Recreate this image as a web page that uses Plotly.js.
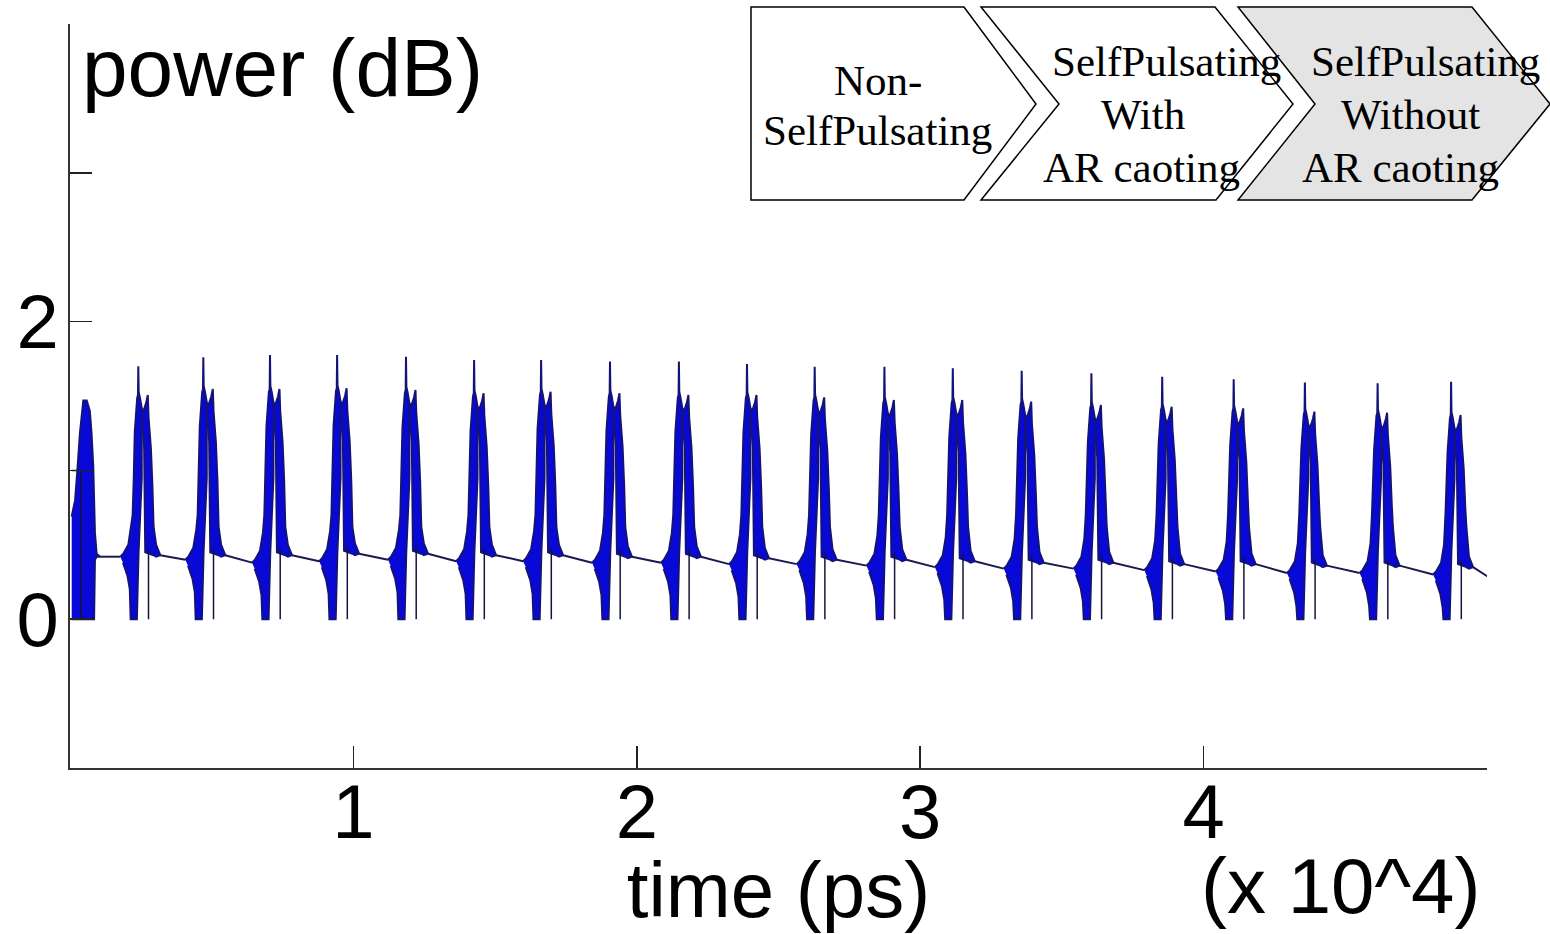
<!DOCTYPE html>
<html>
<head>
<meta charset="utf-8">
<script src="https://cdn.plot.ly/plotly-3.0.1.min.js"></script>
<style>html,body{margin:0;padding:0;background:#fff;}#chart{width:1550px;height:934px;}</style>
</head>
<body>
<div id="chart"></div>
<script>
// ---------------- data ----------------
// time axis in units of 10^4 ps, power in dB
const pulseTime  = [0.0589,0.2410,0.4704,0.7057,0.9425,1.1856,1.4259,1.6623,1.9054,2.1486,2.3888,2.6277,2.8737,3.1150,3.3581,3.6041,3.8539,4.1062,4.3574,4.6140,4.8733];
const peakTop    = [1.47,1.70,1.76,1.776,1.776,1.764,1.742,1.742,1.731,1.731,1.715,1.697,1.697,1.686,1.670,1.652,1.630,1.612,1.590,1.585,1.596];
const secondTop  = [null,1.507,1.547,1.547,1.552,1.540,1.518,1.529,1.518,1.507,1.507,1.491,1.473,1.473,1.462,1.440,1.428,1.417,1.395,1.388,1.372];
const baseBefore = [null,0.42,0.40,0.38,0.39,0.40,0.39,0.39,0.38,0.38,0.37,0.37,0.36,0.35,0.34,0.34,0.33,0.32,0.31,0.31,0.30];
const baseAfter  = [0.42,0.43,0.43,0.43,0.44,0.44,0.43,0.43,0.42,0.42,0.41,0.40,0.40,0.39,0.38,0.38,0.37,0.37,0.36,0.36,0.35];
const endTime = 5.003, endValue = 0.286;

// first (start-up) pulse envelope
const firstUpperT = [0.006,0.018,0.026,0.035,0.047,0.059,0.070,0.076,0.082,0.088,0.094,0.106];
const firstUpperV = [0.69,0.80,1.00,1.25,1.47,1.47,1.40,1.25,1.03,0.58,0.44,0.42];
const firstLowerT = [0.106,0.094,0.088,0.085,0.006];
const firstLowerV = [0.42,0.42,0.40,0.00,0.00];
const startLineT = [0.006,0.038,0.038,null,0.006,0.080];
const startLineV = [1.00,1.00,0.00,null,0.00,0.00];

// envelope of one pulse: time offset from the main spike,
// reference level (b = baseline before, a = baseline after, S = second spike, P = peak, abs), value
const leftDt   = [-0.0635,-0.0530,-0.0353,-0.0250,-0.0200,-0.0160,-0.0125,-0.0040,-0.0012,0,0.0014,0.0060,0.0122,0.0122,0.0070,0.0010,-0.0050,-0.0270,-0.0300,-0.0380,-0.0540];
const leftRef  = ['b','b','b','b','abs','abs','S','S','S','P','S','S','S','abs','abs','abs','abs','abs','b','b','b'];
const leftVal  = [0,0.02,0.08,0.20,0.70,0.95,-0.25,-0.02,0.00,0,0.02,-0.02,-0.09,0.95,0.70,0.45,0.00,0.00,-0.22,-0.13,-0.04];
const rightDt  = [0.0122,0.0180,0.0282,0.0335,0.0362,0.0445,0.0500,0.0540,0.0630,0.0776,0.0630,0.0540,0.0245,0.0205,0.0150,0.0128];
const rightRef = ['S','S','S','S','S','S','S','abs','a','a','a','a','a','S','S','S'];
const rightVal = [-0.09,-0.11,-0.05,0,-0.15,-0.36,-0.62,0.62,0.07,0,-0.01,0,0.02,-0.35,-0.22,-0.14];
const dropDt = 0.036;

const xTickVals = [1,2,3,4,5];
const xTickText = ['1','2','3','4',''];
const yTickVals = [0,1,2,3,4];
const yTickText = ['0','','2','',''];

const boxLabels = [
  ['Non-','SelfPulsating'],
  ['SelfPulsating','With','AR caoting'],
  ['SelfPulsating','Without','AR caoting']
];

// ---------------- build traces ----------------
function level(ref, val, i) {
  if (ref === 'b') return baseBefore[i] + val;
  if (ref === 'a') return baseAfter[i] + val;
  if (ref === 'S') return secondTop[i] + val;
  if (ref === 'P') return peakTop[i];
  return val;
}
const fx = [], fy = [];
firstUpperT.forEach((t,k)=>{fx.push(t); fy.push(firstUpperV[k]);});
firstLowerT.forEach((t,k)=>{fx.push(t); fy.push(firstLowerV[k]);});
fx.push(null); fy.push(null);
for (let i = 1; i < pulseTime.length; i++) {
  const M = pulseTime[i];
  leftDt.forEach((d,k)=>{fx.push(M+d); fy.push(level(leftRef[k], leftVal[k], i));});
  fx.push(null); fy.push(null);
  rightDt.forEach((d,k)=>{fx.push(M+d); fy.push(level(rightRef[k], rightVal[k], i));});
  fx.push(null); fy.push(null);
}
// baseline between pulses
const bx = [], by = [];
for (let i = 0; i < pulseTime.length; i++) {
  const t0 = (i === 0) ? firstUpperT[firstUpperT.length-1] : pulseTime[i] + rightDt[9];
  bx.push(t0); by.push(baseAfter[i]);
  if (i + 1 < pulseTime.length) { bx.push(pulseTime[i+1] + leftDt[0]); by.push(baseBefore[i+1]); }
  else { bx.push(endTime); by.push(endValue); }
  bx.push(null); by.push(null);
}
// thin drops to zero after the second spike
const dx = startLineT.slice(), dy = startLineV.slice();
dx.push(null); dy.push(null);
for (let i = 1; i < pulseTime.length; i++) {
  dx.push(pulseTime[i]+dropDt, pulseTime[i]+dropDt, null);
  dy.push(baseAfter[i]+0.05, 0, null);
}

const traces = [
  {type:'scatter', mode:'lines', x:fx, y:fy, fill:'toself', fillcolor:'rgb(8,8,215)',
   line:{color:'rgb(20,20,120)', width:2}, hoverinfo:'skip', connectgaps:false},
  {type:'scatter', mode:'lines', x:bx, y:by, line:{color:'rgb(26,26,78)', width:2}, hoverinfo:'skip', connectgaps:false},
  {type:'scatter', mode:'lines', x:dx, y:dy, line:{color:'rgb(20,20,60)', width:1.5}, hoverinfo:'skip', connectgaps:false}
];

// ---------------- layout ----------------
const L = 70, R = 1487, T = 24, B = 768;
const px2x = p => (p - L) / (R - L);
const py2y = p => (B - p) / (B - T);
function pathOf(pts){ return 'M' + pts.map(p => px2x(p[0]).toFixed(5)+','+py2y(p[1]).toFixed(5)).join(' L') + ' Z'; }
const chevrons = [
  [[751,7],[964,7],[1036,104],[964,200],[751,200]],
  [[981,7],[1215,7],[1293,104],[1216,200],[981,200],[1059,104]],
  [[1238,7],[1472,7],[1550,104],[1472,200],[1238,200],[1315,104]]
];
const chevronFill = ['#ffffff','#ffffff','#e4e4e4'];
const shapes = chevrons.map((c,k)=>({type:'path', xref:'paper', yref:'paper', path:pathOf(c),
  fillcolor:chevronFill[k], line:{color:'#000', width:1.5}, layer:'above'}));

const linePos = [
  [[878,80],[877,130]],
  [[1166,62],[1143,114],[1141,167]],
  [[1425,62],[1410,114],[1400,167]]
];
const serif = 'Times New Roman, Liberation Serif, serif';
const sans = 'Arial, Liberation Sans, sans-serif';
const annotations = [];
boxLabels.forEach((lines,k)=>lines.forEach((txt,j)=>{
  annotations.push({xref:'paper', yref:'paper', x:px2x(linePos[k][j][0]), y:py2y(linePos[k][j][1]),
    xanchor:'center', yanchor:'middle', text:txt, showarrow:false, borderpad:0,
    font:{family:serif, size:43, color:'#000'}});
}));
annotations.push({xref:'paper', yref:'paper', x:px2x(80), y:py2y(68), xanchor:'left', yanchor:'middle',
  text:'power (dB)', showarrow:false, font:{family:sans, size:82, color:'#000'}});
annotations.push({xref:'paper', yref:'paper', x:px2x(1482), y:py2y(886), xanchor:'right', yanchor:'middle',
  text:'(x 10^4)', showarrow:false, font:{family:sans, size:78, color:'#000'}});

const layout = {
  width:1550, height:934,
  margin:{l:L, r:1550-R, t:T, b:934-B, pad:0},
  paper_bgcolor:'#fff', plot_bgcolor:'#fff', showlegend:false,
  xaxis:{range:[0,5], tickvals:xTickVals, ticktext:xTickText, ticks:'inside', ticklen:22, tickwidth:1.5,
    tickcolor:'#222', showline:true, linewidth:2, linecolor:'#333', showgrid:false, zeroline:false,
    tickfont:{family:sans, size:76, color:'#000'}, automargin:false, ticklabelstandoff:-23,
    title:{text:'time (ps)', font:{family:sans, size:78, color:'#000'}, standoff:0}},
  yaxis:{range:[-1,4], tickvals:yTickVals, ticktext:yTickText, ticks:'inside', ticklen:22, tickwidth:1.5,
    tickcolor:'#222', showline:true, linewidth:2, linecolor:'#333', showgrid:false, zeroline:false,
    tickfont:{family:sans, size:76, color:'#000'}, automargin:false, ticklabelstandoff:-6},
  shapes:shapes, annotations:annotations
};
Plotly.newPlot('chart', traces, layout, {staticPlot:true, displayModeBar:false});
</script>
</body>
</html>
